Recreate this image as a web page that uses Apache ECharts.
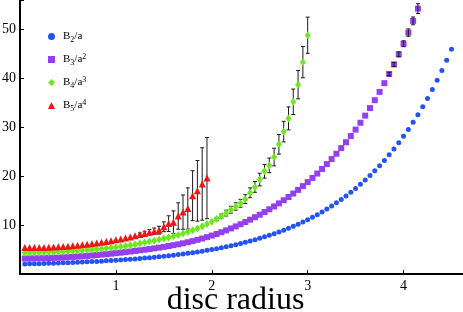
<!DOCTYPE html>
<html><head><meta charset="utf-8">
<script src="https://cdn.jsdelivr.net/npm/echarts@6/dist/echarts.min.js"></script>
<style>html,body{margin:0;padding:0;background:#fff}#c{width:463px;height:312px}</style>
</head><body><div id="c"></div>
<script>
// disc radius grid (x values)
const radius = [0.05,0.1,0.15,0.2,0.25,0.3,0.35,0.4,0.45,0.5,
0.55,0.6,0.65,0.7,0.75,0.8,0.85,0.9,0.95,1.0,
1.05,1.1,1.15,1.2,1.25,1.3,1.35,1.4,1.45,1.5,
1.55,1.6,1.65,1.7,1.75,1.8,1.85,1.9,1.95,2.0,
2.05,2.1,2.15,2.2,2.25,2.3,2.35,2.4,2.45,2.5,
2.55,2.6,2.65,2.7,2.75,2.8,2.85,2.9,2.95,3.0,
3.05,3.1,3.15,3.2,3.25,3.3,3.35,3.4,3.45,3.5,
3.55,3.6,3.65,3.7,3.75,3.8,3.85,3.9,3.95,4.0,
4.05,4.1,4.15,4.2,4.25,4.3,4.35,4.4,4.45,4.5];

// B2/a
const b2 = [2.04,2.07,2.09,2.12,2.15,2.18,2.21,2.24,2.28,2.31,
2.35,2.39,2.44,2.48,2.53,2.58,2.63,2.69,2.75,2.81,
2.87,2.94,3.01,3.09,3.16,3.25,3.34,3.43,3.53,3.63,
3.73,3.85,3.97,4.09,4.23,4.36,4.51,4.67,4.83,5.00,
5.18,5.37,5.57,5.78,6.00,6.23,6.47,6.73,7.00,7.29,
7.59,7.90,8.23,8.58,8.95,9.34,9.75,10.18,10.63,11.11,
11.61,12.13,12.69,13.27,13.89,14.54,15.22,15.93,16.69,17.48,
18.32,19.20,20.13,21.10,22.13,23.21,24.35,25.54,26.80,28.13,
29.53,31.00,32.54,34.17,35.89,37.69,39.59,41.59,43.69,45.91];

// B3/a^2
const b3 = [3.16,3.17,3.19,3.21,3.23,3.26,3.30,3.34,3.39,3.44,
3.50,3.56,3.63,3.70,3.78,3.87,3.96,4.05,4.15,4.26,
4.36,4.47,4.59,4.71,4.84,4.97,5.10,5.24,5.39,5.55,
5.71,5.89,6.07,6.27,6.49,6.72,6.97,7.24,7.53,7.85,
8.18,8.54,8.92,9.32,9.73,10.17,10.63,11.10,11.60,12.12,
12.66,13.22,13.81,14.43,15.07,15.74,16.45,17.19,17.96,18.78,
19.63,20.53,21.47,22.46,23.49,24.58,25.73,26.93,28.19,29.52,
30.91,32.37,33.91,35.52,37.22,39.00,40.87,42.83,44.90,47.06,
49.34,51.73,54.24];
// error bars (0 = too small to see)
const b3err = [0,0,0,0,0,0,0,0,0,0, 0,0,0,0,0,0,0,0,0,0,
0,0,0,0,0,0,0,0,0,0, 0,0,0,0,0,0,0,0,0,0,
0,0,0,0,0,0,0,0,0,0, 0,0,0,0,0,0,0,0,0,0,
0,0,0,0,0,0,0,0,0,0, 0,0,0,0,0,0,0.35,0.4,0.5,0.6,
0.75,0.8,1.0];

// B4/a^3
const b4 = [4.35,4.36,4.38,4.40,4.42,4.45,4.49,4.53,4.58,4.63,
4.69,4.75,4.82,4.89,4.97,5.06,5.15,5.25,5.36,5.48,
5.60,5.73,5.87,6.04,6.25,6.43,6.62,6.82,7.03,7.25,
7.48,7.72,7.98,8.27,8.58,8.92,9.31,9.74,10.20,10.70,
11.24,11.82,12.45,13.14,13.80,14.45,15.30,16.60,17.80,19.30,
21.00,22.20,23.90,26.50,29.10,31.80,35.20,38.70,43.30,48.80];
const b4err = [0,0,0,0,0,0,0,0,0,0, 0,0,0,0,0,0,0,0,0,0,
0,0,0,0,0,0,0,0,0,0, 0,0,0,0,0,0,0,0,0,0,
0.3,0.45,0.6,0.7,0.75,0.8,0.9,1.0,1.1,1.3,
1.4,1.5,1.8,2.0,2.1,2.35,2.6,2.9,3.2,3.7];

// B5/a^4
const b5 = [5.40,5.40,5.41,5.42,5.44,5.47,5.51,5.56,5.62,5.69,
5.77,5.86,5.96,6.07,6.19,6.33,6.48,6.65,6.82,7.00,
7.15,7.35,7.55,7.80,8.05,8.30,8.55,8.75,8.95,9.65,
10.30,10.60,11.85,12.65,13.40,16.00,17.00,18.40,19.60];
const b5err = [0,0,0,0,0,0,0,0,0,0, 0,0,0,0,0,0,0,0,0,0,
0,0,0,0,0.35,0.45,0.55,0.65,0.8,1.0,
1.6,2.3,2.7,3.5,4.2,5.1,6.2,7.4,8.3];

const legendLabels = {
  'B2/a': '{p|B}{sub|2}{b|/a}',
  'B3/a2': '{p|B}{sub|3}{b|/a}{sup|2}',
  'B4/a3': '{p|B}{sub|4}{b|/a}{sup|3}',
  'B5/a4': '{p|B}{sub|5}{b|/a}{sup|4}'
};
const colors = ['#2352f5','#9440f0','#6ee81e','#f01515'];
const serif = 'Liberation Serif, Times New Roman, serif';

function pts(vals){ return vals.map((v,i)=>[radius[i], v]); }
function errSeries(vals, errs, z){
  const data = [];
  vals.forEach((v,i)=>{ if (errs[i] > 0) data.push([radius[i], v-errs[i], v+errs[i]]); });
  return {
    type:'custom', silent:true, z:z,
    data: data,
    encode:{x:0, y:[1,2]},
    renderItem: function(params, api){
      const x = api.value(0);
      const p1 = api.coord([x, api.value(1)]);
      const p2 = api.coord([x, api.value(2)]);
      const w = 2;
      const st = {stroke:'#1a1a1a', lineWidth:1};
      return {type:'group', children:[
        {type:'line', shape:{x1:p1[0],y1:p1[1],x2:p2[0],y2:p2[1]}, style:st},
        {type:'line', shape:{x1:p1[0]-w,y1:p1[1],x2:p1[0]+w,y2:p1[1]}, style:st},
        {type:'line', shape:{x1:p2[0]-w,y1:p2[1],x2:p2[0]+w,y2:p2[1]}, style:st}
      ]};
    }
  };
}

const chart = echarts.init(document.getElementById('c'), null, {renderer:'canvas'});
chart.setOption({
  animation:false,
  backgroundColor:'#fff',
  grid:{left:20, right:0, top:0, bottom:38, containLabel:false, outerBoundsMode:'none'},
  xAxis:{
    type:'value', min:0, max:4.62, interval:1,
    axisLine:{lineStyle:{color:'#000', width:2}},
    axisTick:{inside:true, length:4, lineStyle:{color:'#000', width:1}},
    splitLine:{show:false},
    axisLabel:{color:'#000', fontFamily:serif, fontSize:14, margin:5,
      formatter:function(v){ return (v>0 && Math.abs(v-Math.round(v))<1e-9) ? String(v) : ''; }},
    name:'disc radius', nameLocation:'middle', nameGap:11, nameMoveOverlap:false,
    nameTextStyle:{color:'#000', fontFamily:serif, fontSize:32, verticalAlign:'top', padding:[0,12,0,0]}
  },
  yAxis:{
    type:'value', min:0, max:56, interval:10,
    axisLine:{show:true, lineStyle:{color:'#000', width:2}},
    axisTick:{show:true, inside:true, length:4, lineStyle:{color:'#000', width:1}},
    splitLine:{show:false},
    axisLabel:{color:'#000', fontFamily:serif, fontSize:14, margin:4,
      formatter:function(v){ return (v>0 && v%10===0) ? String(v) : ''; }}
  },
  legend:{
    orient:'vertical', left:48, top:31, padding:0, itemWidth:7, itemHeight:7, itemGap:9,
    data:[
      {name:'B2/a', icon:'circle'},
      {name:'B3/a2', icon:'rect'},
      {name:'B4/a3', icon:'diamond'},
      {name:'B5/a4', icon:'triangle'}
    ],
    formatter:function(n){ return legendLabels[n]; },
    textStyle:{
      color:'#000', fontFamily:serif, fontSize:11,
      rich:{
        p:{fontFamily:serif, fontSize:11, lineHeight:14, color:'#000', padding:[0,0,0,3]},
        b:{fontFamily:serif, fontSize:11, lineHeight:14, color:'#000'},
        sub:{fontFamily:serif, fontSize:8, lineHeight:8, color:'#000', verticalAlign:'bottom'},
        sup:{fontFamily:serif, fontSize:8, lineHeight:8, color:'#000', verticalAlign:'top'}
      }
    }
  },
  series:[
    {name:'B2/a', type:'scatter', symbol:'circle', symbolSize:5, z:2,
      itemStyle:{color:colors[0], opacity:1}, data:pts(b2)},
    {name:'B3/a2', type:'scatter', symbol:'rect', symbolSize:6, z:2,
      itemStyle:{color:colors[1], opacity:1}, data:pts(b3)},
    errSeries(b3, b3err, 3),
    errSeries(b4, b4err, 1),
    {name:'B4/a3', type:'scatter', symbol:'diamond', symbolSize:[6,8], z:2,
      itemStyle:{color:colors[2], opacity:1}, data:pts(b4)},
    errSeries(b5, b5err, 1),
    {name:'B5/a4', type:'scatter', symbol:'triangle', symbolSize:7, z:2,
      itemStyle:{color:colors[3], opacity:1}, data:pts(b5)}
  ]
});
</script>
</body></html>
